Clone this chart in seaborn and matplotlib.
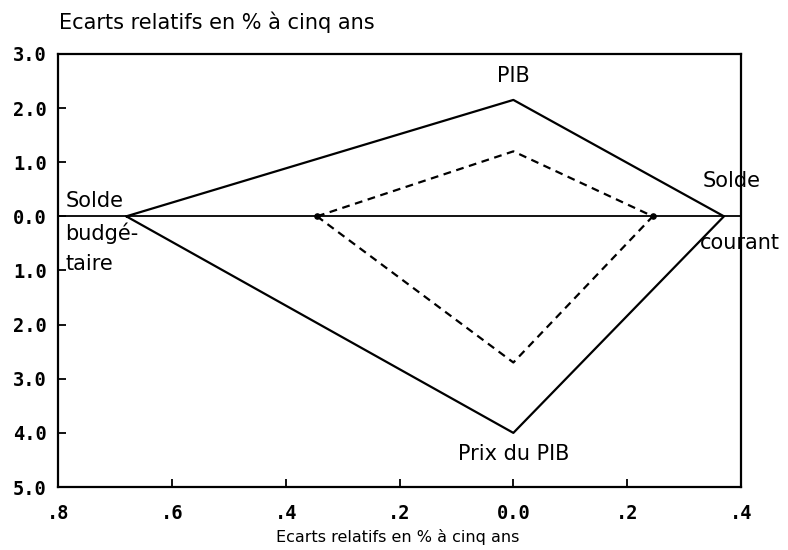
import matplotlib
matplotlib.use("Agg")
import matplotlib.pyplot as plt
import seaborn as sns
import pandas as pd

# Sommets des losanges: Solde budgetaire, PIB, Solde courant, Prix du PIB
solid_x = [-0.68, 0.0, 0.37, 0.0]
solid_y = [0.0, 2.15, 0.0, -4.0]
dashed_x = [-0.345, 0.0, 0.245, 0.0]
dashed_y = [0.0, 1.2, 0.0, -2.7]

x_ticks = [-0.8, -0.6, -0.4, -0.2, 0.0, 0.2, 0.4]
x_labels = [".8", ".6", ".4", ".2", "0.0", ".2", ".4"]
y_ticks = [3, 2, 1, 0, -1, -2, -3, -4, -5]
y_labels = ["3.0", "2.0", "1.0", "0.0", "1.0", "2.0", "3.0", "4.0", "5.0"]


def closed(xs, ys):
    # ferme le polygone
    return pd.DataFrame({"x": xs + xs[:1], "y": ys + ys[:1]})


sns.set_theme(style="ticks")
plt.rcParams["font.family"] = ["DejaVu Sans"]
plt.rcParams["text.color"] = "black"
plt.rcParams["xtick.color"] = "black"
plt.rcParams["ytick.color"] = "black"

fig = plt.figure(figsize=(7.88, 5.5), dpi=100)
ax = fig.add_axes([0.0736, 0.1145, 0.8668, 0.7875])

# Ligne zero
ax.axhline(0, color="black", linewidth=1.3, zorder=1)

sns.lineplot(data=closed(solid_x, solid_y), x="x", y="y", sort=False,
             estimator=None, color="black", linewidth=1.6, ax=ax)
sns.lineplot(data=closed(dashed_x, dashed_y), x="x", y="y", sort=False,
             estimator=None, color="black", linewidth=1.6, ax=ax,
             linestyle=(0, (3.5, 2.5)))
ax.scatter([dashed_x[0], dashed_x[2]], [dashed_y[0], dashed_y[2]],
           s=14, color="black", zorder=3)

ax.set_xlim(-0.8, 0.4)
ax.set_ylim(-5, 3)
ax.set_xticks(x_ticks)
ax.set_xticklabels(x_labels)
ax.set_yticks(y_ticks)
ax.set_yticklabels(y_labels)
for lab in ax.get_xticklabels() + ax.get_yticklabels():
    lab.set_family("DejaVu Sans Mono")
    lab.set_weight("bold")
    lab.set_fontsize(13.5)
    lab.set_color("black")
ax.tick_params(direction="in", length=6, width=1.3, color="black")
ax.tick_params(axis="x", pad=12)
ax.tick_params(axis="y", pad=8)
for sp in ax.spines.values():
    sp.set_visible(True)
    sp.set_linewidth(1.6)
    sp.set_color("black")

ax.set_xlabel("")
ax.set_ylabel("")

# Etiquettes des sommets
lab_size = 15
ax.text(0.0, 2.4, "PIB", fontsize=lab_size, ha="center", va="bottom")
ax.text(0.0, -4.2, "Prix du PIB", fontsize=lab_size, ha="center", va="top")
ax.text(-0.787, 0.1, "Solde", fontsize=lab_size, ha="left", va="bottom")
ax.text(-0.787, -0.12, "budgé-", fontsize=lab_size, ha="left", va="top")
ax.text(-0.787, -0.7, "taire", fontsize=lab_size, ha="left", va="top")
ax.text(0.332, 0.54, "Solde", fontsize=lab_size, ha="left", va="baseline",
        clip_on=False)
ax.text(0.328, -0.31, "courant", fontsize=lab_size, ha="left", va="top",
        clip_on=False)

fig.text(0.075, 0.96, "Ecarts relatifs en % à cinq ans", fontsize=15,
         ha="left", va="center")
fig.text(0.505, 0.024, "Ecarts relatifs en % à cinq ans", fontsize=11.5,
         ha="center", va="center")

fig.savefig("out.png", dpi=100)
plt.close(fig)
